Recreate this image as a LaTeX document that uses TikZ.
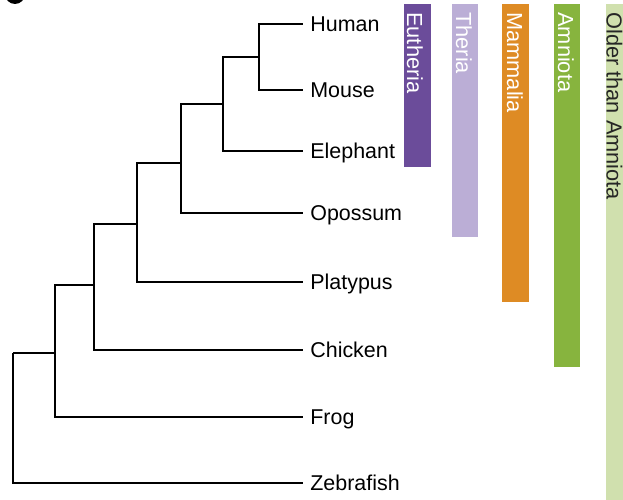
\documentclass[tikz,border=0pt]{standalone}
\usepackage{fontspec}
\setmainfont{Liberation Sans}
\usetikzlibrary{positioning,calc}
\definecolor{eutcol}{HTML}{6B4C9A}
\definecolor{thecol}{HTML}{BBAED6}
\definecolor{mamcol}{HTML}{DE8B24}
\definecolor{amncol}{HTML}{87B43E}
\definecolor{oldcol}{HTML}{D0E0AE}
\tikzset{
  leaf/.style={anchor=west,inner xsep=4pt,inner ysep=0pt,text height=8.8pt,text depth=0pt,
    font=\fontsize{12.2}{14}\selectfont},
  branch/.style={line width=1.3pt},
  cladetxt/.style={rotate=-90,anchor=base west,inner sep=0pt,text=white,
    font=\fontsize{12.4}{14}\selectfont},
}

\begin{document}
\begin{tikzpicture}[x=0.02cm,y=-0.02cm]
  \useasboundingbox (0,0) rectangle (623,500);
  \clip (0,0) rectangle (623,500);
  % panel letter, cut off at the top
  \fill (15,-6) circle (10);
  % leaves
  \node[leaf] (human) at (303,24) {Human};
  \node[leaf] (mouse) at (303,90) {Mouse};
  \node[leaf] (eleph) at (303,151) {Elephant};
  \node[leaf] (opos) at (303,213) {Opossum};
  \node[leaf] (platy) at (303,282) {Platypus};
  \node[leaf] (chick) at (303,350) {Chicken};
  \node[leaf] (frog) at (303,417) {Frog};
  \node[leaf] (zebra) at (303,483) {Zebrafish};
  % inner nodes
  \coordinate (hm) at (259,57);
  \coordinate (eut) at (223,104);
  \coordinate (the) at (181,163);
  \coordinate (mam) at (137,224);
  \coordinate (amn) at (94,285);
  \coordinate (tet) at (55,353);
  \coordinate (root) at (13,353);
  \begin{scope}[branch]
    \draw (hm) |- (human.west);
    \draw (hm) |- (mouse.west);
    \draw (eut) |- (hm);
    \draw (eut) |- (eleph.west);
    \draw (the) |- (eut);
    \draw (the) |- (opos.west);
    \draw (mam) |- (the);
    \draw (mam) |- (platy.west);
    \draw (amn) |- (mam);
    \draw (amn) |- (chick.west);
    \draw (tet) |- (amn);
    \draw (tet) |- (frog.west);
    \draw (root) |- (tet);
    \draw (root) |- (zebra.west);
  \end{scope}
  % clade bars
  \fill[eutcol] (404,4) rectangle (431,167);
  \node[cladetxt] (eutlab) at (407,12) {Eutheria};
  \fill[thecol] (452,4) rectangle (478,237);
  \node[cladetxt] (thelab) at (456,12) {Theria};
  \fill[mamcol] (502,4) rectangle (529,302);
  \node[cladetxt] (mamlab) at (507,12) {Mammalia};
  \fill[amncol] (554,4) rectangle (580,367);
  \node[cladetxt] (amnlab) at (558,12) {Amniota};
  \fill[oldcol] (606,4) rectangle (640,510);
  \node[cladetxt,text=black!85] (oldlab) at (606.5,12) {Older than Amniota};
\end{tikzpicture}
\end{document}
